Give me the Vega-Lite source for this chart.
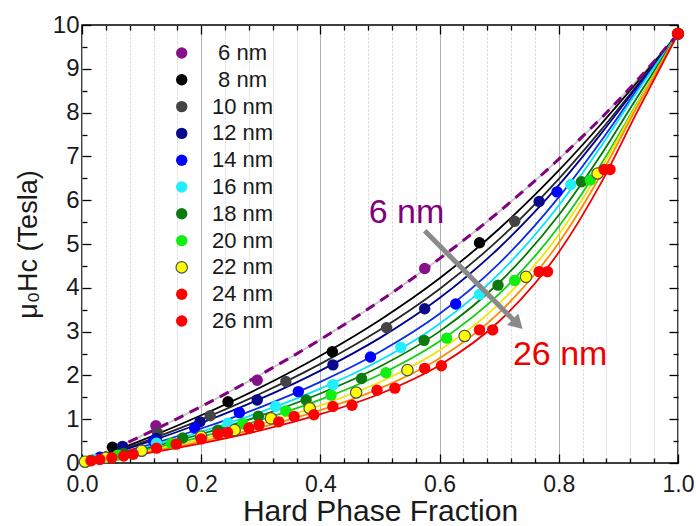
{
  "$schema": "https://vega.github.io/schema/vega-lite/v6.json",
  "width": 596,
  "height": 438,
  "autosize": {"type": "none"},
  "padding": {"left": 82, "top": 25, "right": 18, "bottom": 63},
  "background": "white",
  "config": {
    "font": "Liberation Sans",
    "view": {"stroke": "#000000", "strokeWidth": 1.5},
    "axis": {"domain": false, "labelFont": "Liberation Sans", "titleFont": "Liberation Sans", "labelColor": "#1a1a1a", "titleColor": "#1a1a1a", "titleFontWeight": "normal", "tickColor": "#000000", "tickWidth": 1.3, "labelOverlap": false, "labelFlush": false}
  },
  "datasets": {
    "curves": [
      {"c":"6 nm","f":0,"h":0},{"c":"6 nm","f":0.05,"h":0.303},{"c":"6 nm","f":0.1,"h":0.618},{"c":"6 nm","f":0.2,"h":1.289},{"c":"6 nm","f":0.3,"h":2.021},{"c":"6 nm","f":0.4,"h":2.82},{"c":"6 nm","f":0.5,"h":3.698},{"c":"6 nm","f":0.6,"h":4.667},{"c":"6 nm","f":0.7,"h":5.741},{"c":"6 nm","f":0.8,"h":6.938},{"c":"6 nm","f":0.87,"h":7.862},{"c":"6 nm","f":0.93,"h":8.717},{"c":"6 nm","f":1,"h":9.8},
      {"c":"8 nm","f":0,"h":0},{"c":"8 nm","f":0.05,"h":0.251},{"c":"8 nm","f":0.1,"h":0.516},{"c":"8 nm","f":0.2,"h":1.089},{"c":"8 nm","f":0.3,"h":1.729},{"c":"8 nm","f":0.4,"h":2.45},{"c":"8 nm","f":0.5,"h":3.267},{"c":"8 nm","f":0.6,"h":4.218},{"c":"8 nm","f":0.7,"h":5.349},{"c":"8 nm","f":0.8,"h":6.679},{"c":"8 nm","f":0.87,"h":7.723},{"c":"8 nm","f":0.93,"h":8.671},{"c":"8 nm","f":1,"h":9.8},
      {"c":"10 nm","f":0,"h":0},{"c":"10 nm","f":0.05,"h":0.227},{"c":"10 nm","f":0.1,"h":0.467},{"c":"10 nm","f":0.2,"h":0.992},{"c":"10 nm","f":0.3,"h":1.586},{"c":"10 nm","f":0.4,"h":2.263},{"c":"10 nm","f":0.5,"h":3.043},{"c":"10 nm","f":0.6,"h":3.973},{"c":"10 nm","f":0.7,"h":5.111},{"c":"10 nm","f":0.8,"h":6.487},{"c":"10 nm","f":0.87,"h":7.589},{"c":"10 nm","f":0.93,"h":8.599},{"c":"10 nm","f":1,"h":9.8},
      {"c":"12 nm","f":0,"h":0},{"c":"12 nm","f":0.05,"h":0.208},{"c":"12 nm","f":0.1,"h":0.429},{"c":"12 nm","f":0.2,"h":0.914},{"c":"12 nm","f":0.3,"h":1.469},{"c":"12 nm","f":0.4,"h":2.11},{"c":"12 nm","f":0.5,"h":2.857},{"c":"12 nm","f":0.6,"h":3.767},{"c":"12 nm","f":0.7,"h":4.915},{"c":"12 nm","f":0.8,"h":6.343},{"c":"12 nm","f":0.87,"h":7.502},{"c":"12 nm","f":0.93,"h":8.564},{"c":"12 nm","f":1,"h":9.8},
      {"c":"14 nm","f":0,"h":0},{"c":"14 nm","f":0.05,"h":0.177},{"c":"14 nm","f":0.1,"h":0.366},{"c":"14 nm","f":0.2,"h":0.788},{"c":"14 nm","f":0.3,"h":1.277},{"c":"14 nm","f":0.4,"h":1.853},{"c":"14 nm","f":0.5,"h":2.539},{"c":"14 nm","f":0.6,"h":3.406},{"c":"14 nm","f":0.7,"h":4.559},{"c":"14 nm","f":0.8,"h":6.069},{"c":"14 nm","f":0.87,"h":7.334},{"c":"14 nm","f":0.93,"h":8.498},{"c":"14 nm","f":1,"h":9.8},
      {"c":"16 nm","f":0,"h":0},{"c":"16 nm","f":0.05,"h":0.16},{"c":"16 nm","f":0.1,"h":0.331},{"c":"16 nm","f":0.2,"h":0.714},{"c":"16 nm","f":0.3,"h":1.164},{"c":"16 nm","f":0.4,"h":1.698},{"c":"16 nm","f":0.5,"h":2.344},{"c":"16 nm","f":0.6,"h":3.18},{"c":"16 nm","f":0.7,"h":4.326},{"c":"16 nm","f":0.8,"h":5.879},{"c":"16 nm","f":0.87,"h":7.213},{"c":"16 nm","f":0.93,"h":8.448},{"c":"16 nm","f":1,"h":9.8},
      {"c":"18 nm","f":0,"h":0},{"c":"18 nm","f":0.05,"h":0.147},{"c":"18 nm","f":0.1,"h":0.306},{"c":"18 nm","f":0.2,"h":0.662},{"c":"18 nm","f":0.3,"h":1.083},{"c":"18 nm","f":0.4,"h":1.587},{"c":"18 nm","f":0.5,"h":2.202},{"c":"18 nm","f":0.6,"h":3.005},{"c":"18 nm","f":0.7,"h":4.121},{"c":"18 nm","f":0.8,"h":5.661},{"c":"18 nm","f":0.87,"h":7.02},{"c":"18 nm","f":0.93,"h":8.317},{"c":"18 nm","f":1,"h":9.8},
      {"c":"20 nm","f":0,"h":0},{"c":"20 nm","f":0.05,"h":0.132},{"c":"20 nm","f":0.1,"h":0.275},{"c":"20 nm","f":0.2,"h":0.598},{"c":"20 nm","f":0.3,"h":0.982},{"c":"20 nm","f":0.4,"h":1.446},{"c":"20 nm","f":0.5,"h":2.021},{"c":"20 nm","f":0.6,"h":2.782},{"c":"20 nm","f":0.7,"h":3.862},{"c":"20 nm","f":0.8,"h":5.4},{"c":"20 nm","f":0.87,"h":6.802},{"c":"20 nm","f":0.93,"h":8.178},{"c":"20 nm","f":1,"h":9.8},
      {"c":"22 nm","f":0,"h":0},{"c":"22 nm","f":0.05,"h":0.119},{"c":"22 nm","f":0.1,"h":0.247},{"c":"22 nm","f":0.2,"h":0.538},{"c":"22 nm","f":0.3,"h":0.888},{"c":"22 nm","f":0.4,"h":1.315},{"c":"22 nm","f":0.5,"h":1.849},{"c":"22 nm","f":0.6,"h":2.574},{"c":"22 nm","f":0.7,"h":3.639},{"c":"22 nm","f":0.8,"h":5.218},{"c":"22 nm","f":0.87,"h":6.698},{"c":"22 nm","f":0.93,"h":8.156},{"c":"22 nm","f":1,"h":9.8},
      {"c":"24 nm","f":0,"h":0},{"c":"24 nm","f":0.05,"h":0.107},{"c":"24 nm","f":0.1,"h":0.224},{"c":"24 nm","f":0.2,"h":0.49},{"c":"24 nm","f":0.3,"h":0.811},{"c":"24 nm","f":0.4,"h":1.206},{"c":"24 nm","f":0.5,"h":1.704},{"c":"24 nm","f":0.6,"h":2.393},{"c":"24 nm","f":0.7,"h":3.433},{"c":"24 nm","f":0.8,"h":5.028},{"c":"24 nm","f":0.87,"h":6.564},{"c":"24 nm","f":0.93,"h":8.099},{"c":"24 nm","f":1,"h":9.8},
      {"c":"26 nm","f":0,"h":0},{"c":"26 nm","f":0.05,"h":0.098},{"c":"26 nm","f":0.1,"h":0.205},{"c":"26 nm","f":0.2,"h":0.45},{"c":"26 nm","f":0.3,"h":0.746},{"c":"26 nm","f":0.4,"h":1.114},{"c":"26 nm","f":0.5,"h":1.581},{"c":"26 nm","f":0.6,"h":2.233},{"c":"26 nm","f":0.7,"h":3.236},{"c":"26 nm","f":0.8,"h":4.81},{"c":"26 nm","f":0.87,"h":6.372},{"c":"26 nm","f":0.93,"h":7.976},{"c":"26 nm","f":1,"h":9.8}
    ],
    "points": [
      {"s":"6 nm","f":0.124,"h":0.85},{"s":"6 nm","f":0.294,"h":1.89},{"s":"6 nm","f":0.575,"h":4.44},{"s":"6 nm","f":1,"h":9.8},
      {"s":"8 nm","f":0.051,"h":0.36},{"s":"8 nm","f":0.245,"h":1.4},{"s":"8 nm","f":0.42,"h":2.54},{"s":"8 nm","f":0.667,"h":5.03},{"s":"8 nm","f":1,"h":9.8},
      {"s":"10 nm","f":0.127,"h":0.68},{"s":"10 nm","f":0.215,"h":1.08},{"s":"10 nm","f":0.342,"h":1.86},{"s":"10 nm","f":0.511,"h":3.09},{"s":"10 nm","f":0.726,"h":5.52},{"s":"10 nm","f":1,"h":9.8},
      {"s":"12 nm","f":0.068,"h":0.38},{"s":"12 nm","f":0.125,"h":0.56},{"s":"12 nm","f":0.198,"h":0.94},{"s":"12 nm","f":0.294,"h":1.44},{"s":"12 nm","f":0.421,"h":2.24},{"s":"12 nm","f":0.575,"h":3.52},{"s":"12 nm","f":0.767,"h":5.97},{"s":"12 nm","f":1,"h":9.8},
      {"s":"14 nm","f":0.03,"h":0.13},{"s":"14 nm","f":0.12,"h":0.5},{"s":"14 nm","f":0.189,"h":0.8},{"s":"14 nm","f":0.264,"h":1.15},{"s":"14 nm","f":0.363,"h":1.63},{"s":"14 nm","f":0.484,"h":2.42},{"s":"14 nm","f":0.627,"h":3.63},{"s":"14 nm","f":0.797,"h":6.19},{"s":"14 nm","f":1,"h":9.8},
      {"s":"16 nm","f":0.02,"h":0.08},{"s":"16 nm","f":0.125,"h":0.45},{"s":"16 nm","f":0.245,"h":0.91},{"s":"16 nm","f":0.325,"h":1.29},{"s":"16 nm","f":0.421,"h":1.79},{"s":"16 nm","f":0.535,"h":2.64},{"s":"16 nm","f":0.667,"h":3.85},{"s":"16 nm","f":0.82,"h":6.36},{"s":"16 nm","f":1,"h":9.8},
      {"s":"18 nm","f":0.015,"h":0.06},{"s":"18 nm","f":0.07,"h":0.22},{"s":"18 nm","f":0.169,"h":0.57},{"s":"18 nm","f":0.228,"h":0.75},{"s":"18 nm","f":0.296,"h":1.07},{"s":"18 nm","f":0.376,"h":1.44},{"s":"18 nm","f":0.469,"h":1.93},{"s":"18 nm","f":0.574,"h":2.8},{"s":"18 nm","f":0.698,"h":4.06},{"s":"18 nm","f":0.838,"h":6.42},{"s":"18 nm","f":1,"h":9.8},
      {"s":"20 nm","f":0.01,"h":0.04},{"s":"20 nm","f":0.06,"h":0.18},{"s":"20 nm","f":0.15,"h":0.45},{"s":"20 nm","f":0.2,"h":0.62},{"s":"20 nm","f":0.27,"h":0.9},{"s":"20 nm","f":0.342,"h":1.19},{"s":"20 nm","f":0.418,"h":1.55},{"s":"20 nm","f":0.51,"h":2.06},{"s":"20 nm","f":0.612,"h":2.85},{"s":"20 nm","f":0.726,"h":4.17},{"s":"20 nm","f":0.853,"h":6.46},{"s":"20 nm","f":1,"h":9.8},
      {"s":"22 nm","f":0.005,"h":0.03},{"s":"22 nm","f":0.04,"h":0.12},{"s":"22 nm","f":0.1,"h":0.28},{"s":"22 nm","f":0.2,"h":0.6},{"s":"22 nm","f":0.256,"h":0.75},{"s":"22 nm","f":0.317,"h":1.02},{"s":"22 nm","f":0.382,"h":1.25},{"s":"22 nm","f":0.46,"h":1.61},{"s":"22 nm","f":0.546,"h":2.12},{"s":"22 nm","f":0.642,"h":2.9},{"s":"22 nm","f":0.745,"h":4.25},{"s":"22 nm","f":0.865,"h":6.61},{"s":"22 nm","f":1,"h":9.8},
      {"s":"24 nm","f":0.015,"h":0.05},{"s":"24 nm","f":0.05,"h":0.12},{"s":"24 nm","f":0.086,"h":0.2},{"s":"24 nm","f":0.158,"h":0.43},{"s":"24 nm","f":0.228,"h":0.66},{"s":"24 nm","f":0.28,"h":0.8},{"s":"24 nm","f":0.33,"h":0.94},{"s":"24 nm","f":0.356,"h":1.06},{"s":"24 nm","f":0.421,"h":1.29},{"s":"24 nm","f":0.495,"h":1.66},{"s":"24 nm","f":0.575,"h":2.16},{"s":"24 nm","f":0.667,"h":3.04},{"s":"24 nm","f":0.767,"h":4.37},{"s":"24 nm","f":0.876,"h":6.7},{"s":"24 nm","f":1,"h":9.8},
      {"s":"26 nm","f":0.03,"h":0.08},{"s":"26 nm","f":0.07,"h":0.16},{"s":"26 nm","f":0.125,"h":0.34},{"s":"26 nm","f":0.2,"h":0.55},{"s":"26 nm","f":0.244,"h":0.7},{"s":"26 nm","f":0.297,"h":0.87},{"s":"26 nm","f":0.389,"h":1.1},{"s":"26 nm","f":0.453,"h":1.32},{"s":"26 nm","f":0.525,"h":1.71},{"s":"26 nm","f":0.603,"h":2.22},{"s":"26 nm","f":0.689,"h":3.04},{"s":"26 nm","f":0.781,"h":4.37},{"s":"26 nm","f":0.886,"h":6.7},{"s":"26 nm","f":1,"h":9.8}
    ],
    "keys": [{"s":"6 nm"},{"s":"8 nm"},{"s":"10 nm"},{"s":"12 nm"},{"s":"14 nm"},{"s":"16 nm"},{"s":"18 nm"},{"s":"20 nm"},{"s":"22 nm"},{"s":"24 nm"},{"s":"26 nm"}],
    "arrow": [{"f":0.575,"h":5.3,"f2":0.731,"h2":3.17}],
    "label6": [{"f":0.481,"h":5.49,"t":"6 nm"}],
    "label26": [{"f":0.723,"h":2.24,"t":"26 nm"}]
  },
  "resolve": {"scale": {"y": "independent"}, "axis": {"x": "independent", "y": "independent"}},
  "layer": [
    {
      "resolve": {"axis": {"x": "independent", "y": "independent"}},
      "layer": [
        {
          "data": {"name": "curves"},
          "mark": {"type": "line", "interpolate": "monotone", "strokeWidth": 1.8},
          "encoding": {
            "x": {"field": "f", "type": "quantitative", "scale": {"domain": [0, 1], "nice": false, "zero": false},
              "axis": {"orient": "bottom", "title": "Hard Phase Fraction", "titleFontSize": 30, "titlePadding": -4,
                "values": [0,0.04,0.08,0.12,0.16,0.2,0.24,0.28,0.32,0.36,0.4,0.44,0.48,0.52,0.56,0.6,0.64,0.68,0.72,0.76,0.8,0.84,0.88,0.92,0.96,1],
                "labelExpr": "abs(datum.value*5 - round(datum.value*5)) < 0.001 ? format(datum.value, '.1f') : ''",
                "labelFontSize": 23, "labelPadding": 19,
                "tickSize": {"condition": {"test": "abs(datum.value*5 - round(datum.value*5)) < 0.001", "value": -9}, "value": -5},
                "grid": true,
                "gridColor": {"condition": {"test": "abs(datum.value*5 - round(datum.value*5)) < 0.001", "value": "#b0b0b0"}, "value": "#d4d4d4"},
                "gridDash": {"condition": {"test": "abs(datum.value*5 - round(datum.value*5)) < 0.001", "value": []}, "value": [2, 2]},
                "gridWidth": 1}},
            "y": {"field": "h", "type": "quantitative", "scale": {"domain": [0, 10], "nice": false},
              "axis": {"orient": "left", "title": "μ₀Hᴄ (Tesla)", "titleFontSize": 27, "titlePadding": 10,
                "values": [0,0.5,1,1.5,2,2.5,3,3.5,4,4.5,5,5.5,6,6.5,7,7.5,8,8.5,9,9.5,10],
                "labelExpr": "datum.value % 1 === 0 ? format(datum.value, 'd') : ''",
                "labelFontSize": 24, "labelPadding": 12,
                "tickSize": {"condition": {"test": "datum.value % 1 === 0", "value": -9}, "value": -5},
                "grid": false}},
            "stroke": {"field": "c", "type": "nominal", "legend": null,
              "scale": {"domain": ["6 nm","8 nm","10 nm","12 nm","14 nm","16 nm","18 nm","20 nm","22 nm","24 nm","26 nm"],
                "range": ["#c4c4c4","#000000","#262626","#00008c","#0a2ee6","#00e5ff","#007a00","#10d010","#f2e600","#ff8c00","#ee0000"]}},
            "detail": {"field": "c", "type": "nominal"}
          }
        },
        {
          "data": {"name": "curves"},
          "transform": [{"filter": "datum.c === '6 nm'"}],
          "mark": {"type": "line", "interpolate": "monotone", "strokeWidth": 3, "strokeDash": [10, 7], "color": "#800080"},
          "encoding": {
            "x": {"field": "f", "type": "quantitative",
              "axis": {"orient": "top", "title": null, "labels": false, "grid": false,
                "values": [0,0.04,0.08,0.12,0.16,0.2,0.24,0.28,0.32,0.36,0.4,0.44,0.48,0.52,0.56,0.6,0.64,0.68,0.72,0.76,0.8,0.84,0.88,0.92,0.96,1],
                "tickSize": {"condition": {"test": "abs(datum.value*5 - round(datum.value*5)) < 0.001", "value": -9}, "value": -5}}},
            "y": {"field": "h", "type": "quantitative",
              "axis": {"orient": "right", "title": null, "labels": false, "grid": false,
                "values": [0,0.5,1,1.5,2,2.5,3,3.5,4,4.5,5,5.5,6,6.5,7,7.5,8,8.5,9,9.5,10],
                "tickSize": {"condition": {"test": "datum.value % 1 === 0", "value": -9}, "value": -5}}}
          }
        },
        {
          "data": {"name": "points"},
          "mark": {"type": "circle", "size": 130, "opacity": 1, "stroke": "#505050"},
          "encoding": {
            "x": {"field": "f", "type": "quantitative", "axis": null},
            "y": {"field": "h", "type": "quantitative", "axis": null},
            "color": {"field": "s", "type": "nominal", "legend": null,
              "scale": {"domain": ["6 nm","8 nm","10 nm","12 nm","14 nm","16 nm","18 nm","20 nm","22 nm","24 nm","26 nm"],
                "range": ["#85128a","#000000","#444444","#0a0a8a","#0000ff","#22eeff","#0c7a0c","#11ee11","#ffff00","#ff0000","#ff0000"]}},
            "strokeWidth": {"condition": {"test": "datum.s === '22 nm'", "value": 1.2}, "value": 0}
          }
        },
        {
          "data": {"name": "arrow"},
          "mark": {"type": "rule", "color": "#8a8a8a", "strokeWidth": 5},
          "encoding": {
            "x": {"field": "f", "type": "quantitative", "axis": null},
            "y": {"field": "h", "type": "quantitative", "axis": null},
            "x2": {"field": "f2"},
            "y2": {"field": "h2"}
          }
        },
        {
          "data": {"name": "arrow"},
          "mark": {"type": "point", "shape": "triangle-up", "filled": true, "color": "#8a8a8a", "size": 260, "angle": 135, "opacity": 1},
          "encoding": {
            "x": {"field": "f2", "type": "quantitative", "axis": null},
            "y": {"field": "h2", "type": "quantitative", "axis": null}
          }
        },
        {
          "data": {"name": "label6"},
          "mark": {"type": "text", "color": "#800080", "fontSize": 34, "align": "left", "baseline": "alphabetic", "font": "Liberation Sans"},
          "encoding": {
            "x": {"field": "f", "type": "quantitative", "axis": null},
            "y": {"field": "h", "type": "quantitative", "axis": null},
            "text": {"field": "t"}
          }
        },
        {
          "data": {"name": "label26"},
          "mark": {"type": "text", "color": "#ee0000", "fontSize": 34, "align": "left", "baseline": "alphabetic", "font": "Liberation Sans"},
          "encoding": {
            "x": {"field": "f", "type": "quantitative", "axis": null},
            "y": {"field": "h", "type": "quantitative", "axis": null},
            "text": {"field": "t"}
          }
        }
      ]
    },
    {
      "data": {"name": "keys"},
      "mark": {"type": "circle", "size": 130, "opacity": 1, "stroke": "#505050"},
      "encoding": {
        "x": {"datum": 0.1673, "type": "quantitative", "axis": null},
        "y": {"field": "s", "type": "nominal", "axis": null,
          "scale": {"domain": ["6 nm","8 nm","10 nm","12 nm","14 nm","16 nm","18 nm","20 nm","22 nm","24 nm","26 nm"], "range": [28, 296], "padding": 0}},
        "color": {"field": "s", "type": "nominal", "legend": null,
          "scale": {"domain": ["6 nm","8 nm","10 nm","12 nm","14 nm","16 nm","18 nm","20 nm","22 nm","24 nm","26 nm"],
            "range": ["#85128a","#000000","#444444","#0a0a8a","#0000ff","#22eeff","#0c7a0c","#11ee11","#ffff00","#ff0000","#ff0000"]}},
        "strokeWidth": {"condition": {"test": "datum.s === '22 nm'", "value": 1.2}, "value": 0}
      }
    },
    {
      "data": {"name": "keys"},
      "mark": {"type": "text", "fontSize": 22, "align": "center", "baseline": "middle", "color": "#1a1a1a", "font": "Liberation Sans"},
      "encoding": {
        "x": {"datum": 0.2693, "type": "quantitative", "axis": null},
        "y": {"field": "s", "type": "nominal", "axis": null,
          "scale": {"domain": ["6 nm","8 nm","10 nm","12 nm","14 nm","16 nm","18 nm","20 nm","22 nm","24 nm","26 nm"], "range": [28, 296], "padding": 0}},
        "text": {"field": "s"}
      }
    }
  ]
}
